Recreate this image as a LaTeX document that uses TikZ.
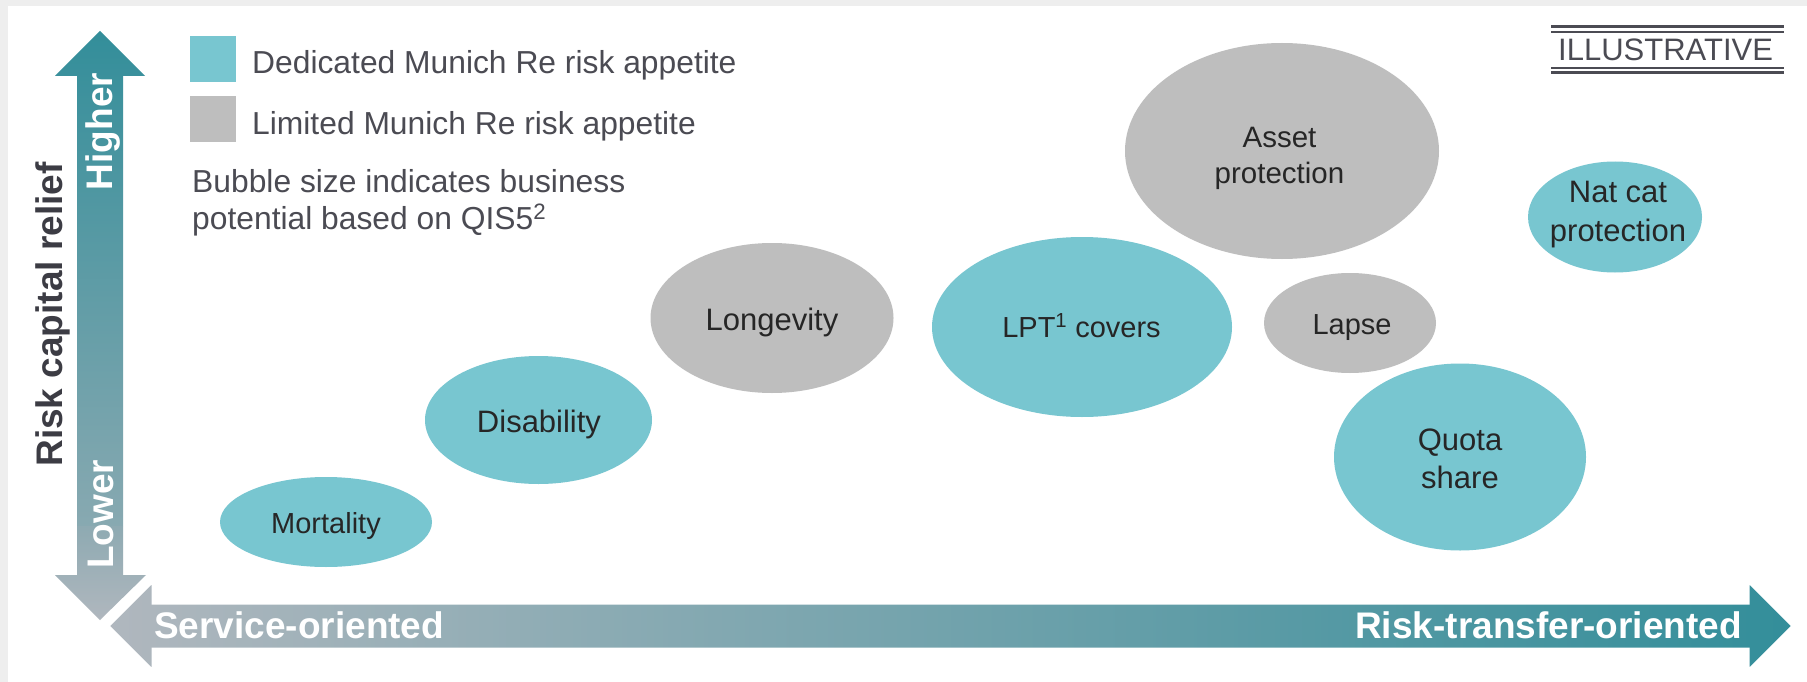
\documentclass[tikz,border=0pt]{standalone}
\usepackage{fontspec}
\setmainfont{Liberation Sans}
\usetikzlibrary{shapes.geometric}
\definecolor{bubcyan}{HTML}{78C6D0}
\definecolor{bubgray}{HTML}{BEBEBE}
\definecolor{bordergray}{HTML}{EEEEEE}
\definecolor{legtext}{HTML}{4B4B53}
\definecolor{labtext}{HTML}{262626}
\definecolor{axislabel}{HTML}{3C3C44}
\definecolor{tealdark}{HTML}{338E9A}
\definecolor{tealmid}{HTML}{88A9B1}
\definecolor{grayarrow}{HTML}{8EAAB2}
\definecolor{graylight}{HTML}{B0B7BE}
\begin{document}
\begin{tikzpicture}[x=1pt,y=-1pt,
  bubble/.style={ellipse, inner sep=0pt, outer sep=0pt, draw=none},
  dedicated/.style={bubble, fill=bubcyan},
  limited/.style={bubble, fill=bubgray},
  lab/.style={text=labtext, inner sep=0pt, anchor=base, font=\fontsize{#1}{#1}\selectfont},
  lab/.default=30,
  legend/.style={text=legtext, inner sep=0pt, anchor=base west, font=\fontsize{31.8}{36}\selectfont},
  tagtext/.style={text=legtext, inner sep=0pt, anchor=base west, font=\fontsize{31}{36}\selectfont},
  axistext/.style={text=white, inner sep=0pt, font=\fontsize{37}{40}\selectfont\bfseries},
  swatch/.style={inner sep=0pt, minimum width=46pt, minimum height=46pt, draw=none}
]
\useasboundingbox (0,0) rectangle (1807,682);
\fill[bordergray] (0,0) rectangle (1807,682);
\fill[white] (8,6) rectangle (1807,682);

% vertical arrow (up part)
\shade[top color=tealdark, bottom color=tealmid]
  (77,526) -- (77,76) -- (55,76) -- (100,31) -- (145,76) -- (123,76) -- (123,526) -- cycle;
% vertical arrow (down part)
\shade[top color=grayarrow, bottom color=graylight]
  (77,526) -- (77,575) -- (55,575) -- (100,620) -- (146,575) -- (123,575) -- (123,526) -- cycle;
% horizontal arrow
\shade[left color=graylight, right color=tealdark, draw=white, line width=3pt]
  (108,626) -- (153,581) -- (153,603) -- (1748,603) -- (1748,581) -- (1793,626)
  -- (1748,671) -- (1748,649) -- (153,649) -- (153,671) -- cycle;

\node[axistext, rotate=90, anchor=base] (higher) at (112,131.5) {Higher};
\node[axistext, rotate=90, anchor=base] (lower) at (113,514.5) {Lower};
\node[axistext, text=axislabel, rotate=90, anchor=base] (rcr) at (62,314.5) {Risk capital relief};
\node[axistext, anchor=base west] (service) at (154,638) {Service-oriented};
\node[axistext, anchor=base east] (risktransfer) at (1742,638) {Risk-transfer-oriented};

% legend
\node[swatch, fill=bubcyan, anchor=north west] (swc) at (190,36) {};
\node[swatch, fill=bubgray, anchor=north west] (swg) at (190,96) {};
\node[legend] (legc) at (252,74) {Dedicated Munich Re risk appetite};
\node[legend] (legg) at (252,135) {Limited Munich Re risk appetite};
\node[legend] (bub1) at (192,193) {Bubble size indicates business};
\node[legend] (bub2) at (192,229) {potential based on QIS5\textsuperscript{2}};

% illustrative tag
\node[tagtext] (ill) at (1558,61) {ILLUSTRATIVE};
\draw[legtext, line width=3pt] (1551,26.5) -- (1784,26.5);
\draw[legtext, line width=1.8pt] (1551,32) -- (1784,32);
\draw[legtext, line width=2pt] (1551,68) -- (1784,68);
\draw[legtext, line width=2.4pt] (1551,72.5) -- (1784,72.5);

% bubbles
\node[dedicated, minimum width=212pt, minimum height=90pt] (mort) at (326,522) {};
\node[dedicated, minimum width=227pt, minimum height=128pt] (disab) at (538.5,420) {};
\node[limited, minimum width=243pt, minimum height=150pt] (longev) at (772,318) {};
\node[dedicated, minimum width=300pt, minimum height=180pt] (lpt) at (1082,327) {};
\node[limited, minimum width=314pt, minimum height=216pt] (asset) at (1282,151) {};
\node[limited, minimum width=172pt, minimum height=100pt] (lapse) at (1350,323) {};
\node[dedicated, minimum width=252pt, minimum height=187pt] (quota) at (1460,457) {};
\node[dedicated, minimum width=174pt, minimum height=111pt] (natcat) at (1615,217) {};

\node[lab=29] (mortlab) at (326,533) {Mortality};
\node[lab=31] (disablab) at (539,432) {Disability};
\node[lab=31] (longevlab) at (772,330) {Longevity};
\node[lab=29] (lptlab) at (1081.5,337) {LPT\textsuperscript{1} covers};
\node[lab=29.5] (assetlab1) at (1279.5,148) {Asset};
\node[lab=29.5] (assetlab2) at (1279.5,183) {protection};
\node[lab=29] (lapselab) at (1352,334) {Lapse};
\node[lab=31] (quotalab1) at (1460,450) {Quota};
\node[lab=31] (quotalab2) at (1460,488) {share};
\node[lab=31] (natcatlab1) at (1618,202) {Nat cat};
\node[lab=31] (natcatlab2) at (1618,241) {protection};
\end{tikzpicture}
\end{document}
